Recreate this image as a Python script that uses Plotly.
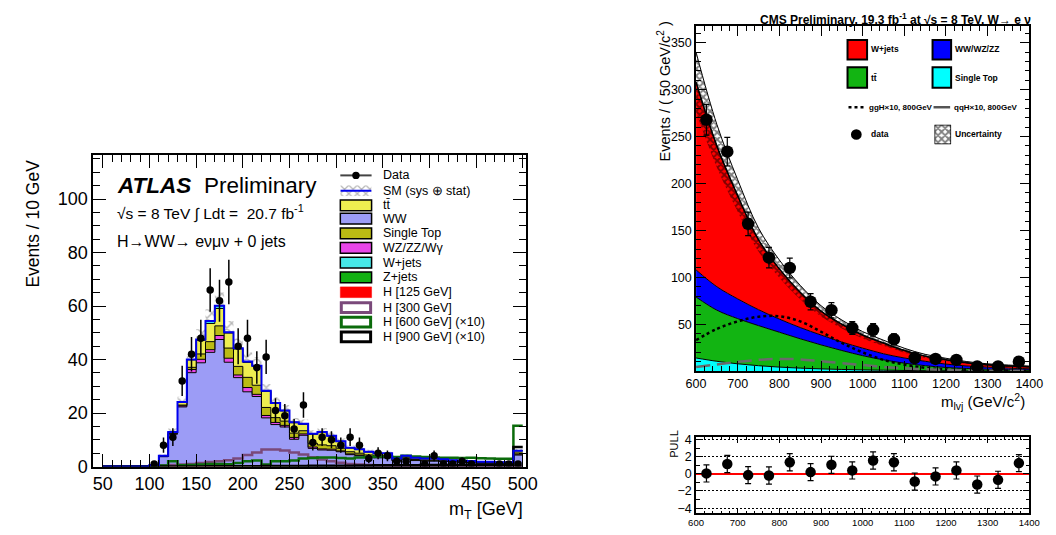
import numpy as np
import plotly.graph_objects as go

W, H = 1056, 535
FONT = "Liberation Sans, Arial, Helvetica, sans-serif"

# ---------------- ATLAS (left): 10 GeV bins, 50 - 500 GeV ----------------
atlas_bin_low = 50
atlas_bin_width = 10
atlas_data = [None, None, None, None, None,
              1, 8, 11, 32, 42, 48, 66, 62, 69, 45,
              48, 37, 41, 21, 19, 14, 23, 9, 11, 10,
              8, 11, 8, 3, 5, 4, 2, 2, None, 1,
              4, 1, 1, 2, 1, None, None, 1, 1, 1]
atlas_h125 = [0, 0, 0, 0, 0,
              0.1, 0.2, 0.2, 0.2, 0.2, 0.2, 0.2, 0.2, 0.2, 0.15,
              0.15, 0.1, 0.1, 0.1, 0.1, 0.05, 0.05, 0.05, 0.05, 0.05,
              0, 0, 0, 0, 0, 0, 0, 0, 0, 0,
              0, 0, 0, 0, 0, 0, 0, 0, 0, 0]
atlas_zjets = [0, 0, 0, 0, 0,
               0.05, 0.1, 0.1, 0.1, 0.1, 0.1, 0.1, 0.1, 0.1, 0.1,
               0.1, 0.1, 0.1, 0.1, 0.1, 0.05, 0.05, 0.05, 0.05, 0.05,
               0.05, 0.05, 0.05, 0.05, 0.05, 0.05, 0.05, 0.05, 0.05, 0.05,
               0.05, 0.05, 0.05, 0.05, 0.05, 0.05, 0.05, 0.05, 0.05, 0.1]
atlas_ww = [0, 0, 0, 0, 0,
            0.3, 3.4, 11.8, 22.0, 34.8, 38.5, 42.4, 47.2, 38.7, 33.0,
            27.7, 26.0, 18.0, 15.5, 14.6, 10.1, 11.6, 6.7, 6.1, 6.0,
            5.5, 4.4, 4.0, 3.5, 3.2, 3.2, 2.0, 2.7, 2.2, 2.0,
            2.0, 1.9, 1.7, 1.5, 1.4, 1.2, 1.2, 1.1, 1.1, 4.2]
atlas_wz = [0, 0, 0, 0, 0,
            0, 0.05, 0.2, 0.4, 1.2, 1.3, 1.0, 1.5, 1.5, 1.0,
            1.6, 0.8, 0.9, 0.8, 0.6, 0.7, 0.5, 0.5, 0.4, 0.4,
            0.3, 0.3, 0.25, 0.2, 0.2, 0.2, 0.15, 0.15, 0.12, 0.12,
            0.12, 0.1, 0.1, 0.1, 0.1, 0.1, 0.1, 0.1, 0.1, 0.3]
atlas_stop = [0, 0, 0, 0, 0,
              0, 0.05, 0.1, 0.3, 0.8, 2.0, 3.0, 3.6, 3.8, 3.2,
              3.8, 3.4, 3.0, 1.8, 1.6, 1.6, 1.2, 1.4, 1.5, 1.3,
              1.0, 0.8, 0.7, 0.6, 0.5, 0.5, 0.3, 0.4, 0.3, 0.3,
              0.3, 0.3, 0.2, 0.2, 0.2, 0.2, 0.2, 0.15, 0.15, 0.5]
atlas_ttbar = [0, 0, 0, 0, 0,
               0.1, 0.2, 0.5, 1.0, 2.8, 5.1, 6.8, 6.5, 5.6, 6.5,
               5.6, 7.1, 6.0, 5.3, 3.8, 3.9, 2.4, 3.4, 4.6, 3.6,
               2.5, 1.4, 1.4, 1.1, 0.9, 0.9, 0.5, 0.7, 0.6, 0.5,
               0.5, 0.4, 0.3, 0.3, 0.3, 0.25, 0.25, 0.2, 0.2, 0.8]
atlas_wjets = [0, 0, 0, 0, 0,
               0, 0, 0, 0.1, 0.1, 0.3, 0.9, 1.0, 0.3, 0.3,
               0.3, 0.2, 0.2, 0.2, 0.2, 0.2, 0.2, 0.2, 0.2, 0.1,
               0.1, 0.1, 0.1, 0.1, 0.1, 0.1, 0.05, 0.05, 0, 0,
               0, 0, 0, 0, 0, 0, 0, 0, 0, 0]
atlas_sm_unc = [0, 0, 0, 0, 0,
                0.1, 0.5, 1.3, 2.0, 3.2, 3.8, 4.4, 5.0, 4.2, 3.7,
                3.4, 3.3, 2.6, 2.2, 2.0, 1.6, 1.6, 1.3, 1.4, 1.2,
                1.0, 0.8, 0.8, 0.7, 0.6, 0.6, 0.4, 0.5, 0.4, 0.4,
                0.4, 0.4, 0.35, 0.3, 0.3, 0.3, 0.3, 0.25, 0.25, 0.8]
atlas_h300 = [0, 0, 0, 0, 0,
              0.3, 0.4, 0.6, 0.8, 1.0, 1.3, 1.7, 2.0, 2.4, 3.0,
              4.3, 5.3, 6.4, 6.4, 6.0, 5.3, 4.5, 3.5, 2.6, 2.0,
              1.4, 1.0, 0.8, 0.6, 0.5, 0.4, 0.3, 0.3, 0.2, 0.2,
              0.2, 0.2, 0.15, 0.15, 0.15, 0.1, 0.1, 0.1, 0.1, 0.2]
atlas_h600x10 = [0, 0, 0, 0, 0,
                 0.1, 0.4, 2.0, 0.5, 0.6, 0.8, 1.0, 1.0, 0.9, 1.3,
                 2.0, 2.3, 0.8, 2.0, 2.0, 2.3, 3.0, 3.2, 3.4, 3.4,
                 3.2, 3.0, 3.4, 3.6, 3.8, 3.8, 3.6, 4.0, 3.8, 3.6,
                 3.4, 3.3, 3.3, 3.2, 3.3, 3.1, 3.0, 2.9, 2.9, 15.3]
atlas_h900x10 = [0, 0, 0, 0, 0,
                 0.02, 0.03, 0.05, 0.05, 0.05, 0.05, 0.08, 0.08, 0.1, 0.1,
                 0.15, 0.15, 0.2, 0.2, 0.2, 0.25, 0.25, 0.3, 0.3, 0.3,
                 0.35, 0.35, 0.4, 0.4, 0.45, 0.45, 0.5, 0.5, 0.5, 0.55,
                 0.55, 0.6, 0.6, 0.6, 0.65, 0.65, 0.7, 0.7, 0.7, 7.3]
atlas_xticks = [50, 100, 150, 200, 250, 300, 350, 400, 450, 500]
atlas_yticks = [0, 20, 40, 60, 80, 100]

# ---------------- CMS (right): fitted shapes sampled every 50 GeV ----------------
cms_x = [600, 650, 700, 750, 800, 850, 900, 950, 1000, 1050,
         1100, 1150, 1200, 1250, 1300, 1350, 1400]
cms_single_top = [14, 10.5, 7.8, 5.8, 4.3, 3.2, 2.4, 1.8, 1.3, 1.0,
                  0.7, 0.5, 0.4, 0.3, 0.2, 0.15, 0.1]
cms_ttbar = [65, 54.5, 48.2, 42.7, 37.2, 31.3, 25.6, 20.2, 15.2, 11.0,
             7.8, 5.3, 3.5, 2.5, 1.8, 1.35, 1.1]
cms_diboson = [29, 25, 21, 17, 14, 12, 10.5, 9, 8, 6.5,
               5.5, 4.7, 3.6, 2.7, 2.2, 1.7, 1.3]
cms_wjets = [200, 150, 110, 74.5, 53.5, 37.5, 25.5, 19, 14, 11.5,
             8, 5.5, 4.7, 3.5, 2.6, 2.4, 2.1]
cms_unc = [32, 23, 17, 12.5, 9.5, 7.5, 5.8, 4.5, 3.6, 3.0,
           2.4, 1.9, 1.5, 1.2, 1.0, 0.9, 0.8]
cms_ggh = [33, 45, 53, 58, 58.5, 53, 42, 30, 20, 12,
           7, 3.5, 1.8, 0.9, 0.4, 0.2, 0.1]
cms_qqh = [4.5, 7, 10, 12, 13, 12.5, 10.5, 8.5, 6.5, 4.5,
           3, 2, 1.2, 0.7, 0.4, 0.2, 0.1]
cms_data_x = [625, 675, 725, 775, 825, 875, 925, 975, 1025, 1075,
              1125, 1175, 1225, 1275, 1325, 1375]
cms_data = [268, 234, 157, 121, 110, 74, 65, 46, 44, 34, 14, 13, 12, 5, 5, 10]
cms_pull = [0.05, 1.15, -0.15, -0.2, 1.35, 0.2, 1.05, 0.4, 1.55, 1.35,
            -0.9, -0.3, 0.4, -1.25, -0.7, 1.25]
cms_pull_err = [1.0, 1.0, 1.0, 1.0, 1.0, 1.0, 1.0, 1.0, 1.0, 1.0,
                1.0, 1.0, 1.0, 1.0, 1.0, 1.0]
cms_xticks = [600, 700, 800, 900, 1000, 1100, 1200, 1300, 1400]
cms_yticks = [50, 100, 150, 200, 250, 300, 350]
pull_yticks = [-4, -2, 0, 2, 4]

# ---------------- colours ----------------
C_WW = "#9c9cf6"
C_TT = "#eeee50"
C_STOP = "#bbbb14"
C_WZ = "#e846e8"
C_WJ = "#46e8e8"
C_ZJ = "#12b012"
C_H125 = "#ff0000"
C_H300 = "#7a497a"
C_H600 = "#0b6b0b"


def px(x):
    return x / W


def py(y):
    return 1 - y / H


fig = go.Figure()

# ---------- ATLAS stack ----------
n = len(atlas_data)
lo = atlas_bin_low + atlas_bin_width * np.arange(n)
edges = np.append(lo, lo[-1] + atlas_bin_width)
centers = lo + atlas_bin_width / 2.0


def step_y(vals):
    v = list(vals)
    return v + [v[-1]]


layers = [(atlas_h125, C_H125), (atlas_zjets, C_ZJ), (atlas_ww, C_WW), (atlas_wz, C_WZ),
          (atlas_stop, C_STOP), (atlas_ttbar, C_TT), (atlas_wjets, C_WJ)]
cum = np.zeros(n)
for i, (vals, col) in enumerate(layers):
    cum = cum + np.array(vals, dtype=float)
    fig.add_trace(go.Scatter(
        x=edges, y=step_y(cum), mode="lines",
        line=dict(shape="hv", color="black", width=1),
        fill="tozeroy" if i == 0 else "tonexty", fillcolor=col,
        xaxis="x", yaxis="y", hoverinfo="skip", showlegend=False))
total = cum
unc = np.array(atlas_sm_unc)

fig.add_trace(go.Bar(
    x=centers, y=2 * unc, base=total - unc, width=atlas_bin_width,
    marker=dict(color="rgba(0,0,0,0)", line=dict(width=0),
                pattern=dict(shape="x", fgcolor="#707070", size=7, solidity=0.38)),
    xaxis="x", yaxis="y", hoverinfo="skip", showlegend=False))

for vals, col in [(atlas_h300, C_H300), (atlas_h600x10, C_H600), (atlas_h900x10, "black")]:
    fig.add_trace(go.Scatter(
        x=edges, y=step_y(vals), mode="lines",
        line=dict(shape="hv", color=col, width=2.5),
        xaxis="x", yaxis="y", hoverinfo="skip", showlegend=False))

fig.add_trace(go.Scatter(
    x=edges, y=step_y(total), mode="lines",
    line=dict(shape="hv", color="#0000ee", width=2),
    xaxis="x", yaxis="y", hoverinfo="skip", showlegend=False))

atlas_err = [np.sqrt(v) if v is not None else None for v in atlas_data]
fig.add_trace(go.Scatter(
    x=centers, y=atlas_data, mode="markers",
    marker=dict(color="black", size=7.5),
    error_y=dict(type="data", array=atlas_err, color="black", thickness=1.5, width=0),
    xaxis="x", yaxis="y", hoverinfo="skip", showlegend=False))

# ---------- CMS stack ----------
c1 = np.array(cms_single_top)
c2 = c1 + np.array(cms_ttbar)
c3 = c2 + np.array(cms_diboson)
c4 = c3 + np.array(cms_wjets)
for i, (cv, col) in enumerate([(c1, "#00ffff"), (c2, "#12b412"), (c3, "#0000ff"), (c4, "#ff0000")]):
    fig.add_trace(go.Scatter(
        x=cms_x, y=cv, mode="lines", line=dict(shape="spline", color="black", width=1),
        fill="tozeroy" if i == 0 else "tonexty", fillcolor=col,
        xaxis="x2", yaxis="y2", hoverinfo="skip", showlegend=False))

cu = np.array(cms_unc)
fig.add_trace(go.Scatter(
    x=cms_x, y=c4 - cu, mode="lines", line=dict(shape="spline", width=0, color="black"),
    xaxis="x2", yaxis="y2", hoverinfo="skip", showlegend=False))
fig.add_trace(go.Scatter(
    x=cms_x, y=c4 + cu, mode="lines", line=dict(shape="spline", width=1, color="black"),
    fill="tonexty", fillcolor="rgba(0,0,0,0)",
    fillpattern=dict(shape="x", fgcolor="black", size=5, solidity=0.6),
    xaxis="x2", yaxis="y2", hoverinfo="skip", showlegend=False))
fig.add_trace(go.Scatter(
    x=cms_x, y=c4, mode="lines", line=dict(shape="spline", color="black", width=1.5),
    xaxis="x2", yaxis="y2", hoverinfo="skip", showlegend=False))
fig.add_trace(go.Scatter(
    x=cms_x, y=cms_ggh, mode="lines", line=dict(shape="spline", color="black", width=2.5, dash="3px,3px"),
    xaxis="x2", yaxis="y2", hoverinfo="skip", showlegend=False))
fig.add_trace(go.Scatter(
    x=cms_x, y=cms_qqh, mode="lines", line=dict(shape="spline", color="#6a6a6a", width=2.5, dash="14px,7px"),
    xaxis="x2", yaxis="y2", hoverinfo="skip", showlegend=False))
cms_err = [np.sqrt(v) for v in cms_data]
fig.add_trace(go.Scatter(
    x=cms_data_x, y=cms_data, mode="markers", marker=dict(color="black", size=12.5),
    error_y=dict(type="data", array=cms_err, color="black", thickness=1.2, width=3),
    xaxis="x2", yaxis="y2", hoverinfo="skip", showlegend=False))

# ---------- pull ----------
fig.add_trace(go.Scatter(
    x=cms_data_x, y=cms_pull, mode="markers", marker=dict(color="black", size=10.5),
    error_y=dict(type="data", array=cms_pull_err, color="black", thickness=1.2, width=3),
    xaxis="x3", yaxis="y3", hoverinfo="skip", showlegend=False))

# ---------- legend swatches with hatch (own tiny axes) ----------
sq_x = [0, 1, 1, 0, 0]
sq_y = [0, 0, 1, 1, 0]
fig.add_trace(go.Scatter(
    x=sq_x, y=sq_y, mode="lines", fill="toself", fillcolor="rgba(0,0,0,0)",
    fillpattern=dict(shape="x", fgcolor="black", size=5, solidity=0.6),
    line=dict(color="black", width=1.5), xaxis="x4", yaxis="y4", hoverinfo="skip", showlegend=False))
fig.add_trace(go.Scatter(
    x=sq_x, y=sq_y, mode="lines", fill="toself", fillcolor="rgba(0,0,0,0)",
    fillpattern=dict(shape="x", fgcolor="#707070", size=6, solidity=0.38),
    line=dict(width=0), xaxis="x5", yaxis="y5", hoverinfo="skip", showlegend=False))
fig.add_trace(go.Scatter(
    x=[0, 1], y=[0.5, 0.5], mode="lines", line=dict(color="#0000ee", width=2),
    xaxis="x5", yaxis="y5", hoverinfo="skip", showlegend=False))


# ---------- axes ----------
def ax(**kw):
    base = dict(showline=True, linecolor="black", linewidth=1.5, mirror="allticks",
                ticks="inside", tickcolor="black", tickwidth=1, showgrid=False,
                zeroline=False, tickfont=dict(family=FONT, color="black"))
    base.update(kw)
    return base


hidden = dict(visible=False, range=[0, 1], fixedrange=True)

fig.update_layout(
    width=W, height=H, margin=dict(l=0, r=0, t=0, b=0),
    paper_bgcolor="white", plot_bgcolor="white", showlegend=False,
    font=dict(family=FONT, color="black"),
    xaxis=ax(domain=[px(85), px(528)], range=[39.5, 503.5], anchor="y",
             tickmode="array", tickvals=atlas_xticks, ticklen=13, tickfont=dict(size=18, family=FONT),
             minor=dict(ticks="inside", ticklen=7, tickmode="linear", tick0=0, dtick=10, tickcolor="black")),
    yaxis=ax(domain=[py(475), py(155)], range=[0, 116.5], anchor="x",
             tickmode="array", tickvals=atlas_yticks, ticklen=13, tickfont=dict(size=18, family=FONT),
             minor=dict(ticks="inside", ticklen=7, tickmode="linear", tick0=0, dtick=5, tickcolor="black")),
    xaxis2=ax(domain=[px(702), px(1043)], range=[600, 1400], anchor="y2",
              tickmode="array", tickvals=cms_xticks, ticklen=10, tickfont=dict(size=12.5, family=FONT),
              minor=dict(ticks="inside", ticklen=5, tickmode="linear", tick0=600, dtick=20, tickcolor="black")),
    yaxis2=ax(domain=[py(377), py(23)], range=[0, 367.5], anchor="x2",
              tickmode="array", tickvals=cms_yticks, ticklen=10, tickfont=dict(size=12.5, family=FONT),
              minor=dict(ticks="inside", ticklen=5, tickmode="linear", tick0=0, dtick=10, tickcolor="black")),
    xaxis3=ax(domain=[px(702), px(1043)], range=[600, 1400], anchor="y3",
              tickmode="array", tickvals=cms_xticks, ticklen=6, tickfont=dict(size=9.5, family=FONT),
              minor=dict(ticks="inside", ticklen=3, tickmode="linear", tick0=600, dtick=20, tickcolor="black")),
    yaxis3=ax(domain=[py(523), py(445)], range=[-4.6, 4.25], anchor="x3",
              tickmode="array", tickvals=pull_yticks, ticklen=7, tickfont=dict(size=12.5, family=FONT),
              showgrid=True, gridcolor="black", griddash="1.5px,2.5px", gridwidth=1.3,
              zeroline=True, zerolinecolor="#ff0000", zerolinewidth=2,
              minor=dict(ticks="inside", ticklen=4, tickmode="linear", tick0=0, dtick=1, tickcolor="black",
                         showgrid=False)),
    xaxis4=dict(domain=[px(946), px(963)], anchor="y4", **hidden),
    yaxis4=dict(domain=[py(144), py(124)], anchor="x4", **hidden),
    xaxis5=dict(domain=[px(338), px(370)], anchor="y5", **hidden),
    yaxis5=dict(domain=[py(197.5), py(186)], anchor="x5", **hidden),
)

shapes = []
annotations = []


def rect(x0, y0, x1, y1, fill, lc="black", lw=1.5):
    shapes.append(dict(type="rect", xref="paper", yref="paper", x0=px(x0), x1=px(x1),
                       y0=py(y1), y1=py(y0), fillcolor=fill, line=dict(color=lc, width=lw), layer="above"))


def hline(x0, x1, y, color, width, dash="solid"):
    shapes.append(dict(type="line", xref="paper", yref="paper", x0=px(x0), x1=px(x1),
                       y0=py(y), y1=py(y), line=dict(color=color, width=width, dash=dash), layer="above"))


def dot(x, y, r):
    shapes.append(dict(type="circle", xref="paper", yref="paper", x0=px(x - r), x1=px(x + r),
                       y0=py(y + r), y1=py(y - r), fillcolor="black", line=dict(color="black", width=0),
                       layer="above"))


def text(x, y, s, size, xanchor="left", angle=0, color="black"):
    annotations.append(dict(x=px(x), y=py(y), xref="paper", yref="paper", text=s, showarrow=False,
                            xanchor=xanchor, yanchor="middle", textangle=angle,
                            font=dict(family=FONT, size=size, color=color)))


# ---------- ATLAS texts ----------
text(107, 186, "<b><i>ATLAS</i></b>", 22.5)
text(196, 186, "Preliminary", 22.5)
text(107, 214, "√s = 8 TeV ∫ Ldt =  20.7 fb<sup>-1</sup>", 15.5)
text(107, 244, "H→WW→ eνμν + 0 jets", 16)
text(24, 225, "Events / 10 GeV", 17.5, xanchor="center", angle=-90)
text(527, 520, "m<sub>T</sub> [GeV]", 18, xanchor="right")

# ATLAS legend
rows = [176, 191.7, 206.7, 220.5, 235.5, 250.5, 265.5, 280.7, 296, 311.7, 326.7, 341.7]
labels = ["Data", "SM (sys ⊕ stat)", "tt̄", "WW", "Single Top", "WZ/ZZ/Wγ", "W+jets",
          "Z+jets", "H [125 GeV]", "H [300 GeV]", "H [600 GeV] (×10)", "H [900 GeV] (×10)"]
hline(338, 370, rows[0], "#444444", 2)
dot(354, rows[0], 3.8)
box_fills = [C_TT, C_WW, C_STOP, C_WZ, C_WJ, C_ZJ]
for k, col in enumerate(box_fills):
    r = rows[2 + k]
    rect(338, r - 5.5, 370, r + 5.5, col, "black", 1.5)
rect(338, rows[8] - 5.5, 370, rows[8] + 5.5, C_H125, C_H125, 0.5)
rect(339, rows[9] - 5, 369, rows[9] + 5, "white", C_H300, 3)
rect(339, rows[10] - 5, 369, rows[10] + 5, "white", C_H600, 3)
rect(339, rows[11] - 5, 369, rows[11] + 5, "white", "black", 3)
for r, lab in zip(rows, labels):
    text(380, r, lab, 12.5)

# ---------- CMS texts ----------
text(1047, 15, "<b>CMS Preliminary, 19.3 fb<sup>-1</sup> at √s = 8 TeV, W→ e ν</b>", 12, xanchor="right")
text(669, 90, "Events / ( 50 GeV/c<sup>2</sup> )", 14.5, xanchor="center", angle=-90)
text(1041, 408, "m<sub>lvj</sub> (GeV/c<sup>2</sup>)", 15, xanchor="right")
text(680, 452, "PULL", 11, xanchor="center", angle=-90)

# CMS legend
rect(857, 37, 877, 57, "#ff0000", "black", 2)
rect(944, 37, 963, 57, "#0000ff", "black", 2)
rect(857, 65, 877, 86, "#12b412", "black", 2)
rect(944, 65, 963, 86, "#00ffff", "black", 2)
hline(858, 875, 106, "black", 2.5, "3px,3px")
hline(945, 962, 106, "#555555", 2.5)
dot(866, 134, 5.5)
text(879, 46, "<b>W+jets</b>", 8.5)
text(965, 46, "<b>WW/WZ/ZZ</b>", 8.5)
text(879, 76, "<b>tt̄</b>", 8.5)
text(965, 76, "<b>Single Top</b>", 8.5)
text(877, 106, "<b>ggH×10, 800GeV</b>", 8)
text(964, 106, "<b>qqH×10, 800GeV</b>", 8)
text(879, 134, "<b>data</b>", 8.5)
text(965, 134, "<b>Uncertainty</b>", 8.5)

fig.update_layout(shapes=shapes, annotations=annotations)
fig.write_html("out.html")
